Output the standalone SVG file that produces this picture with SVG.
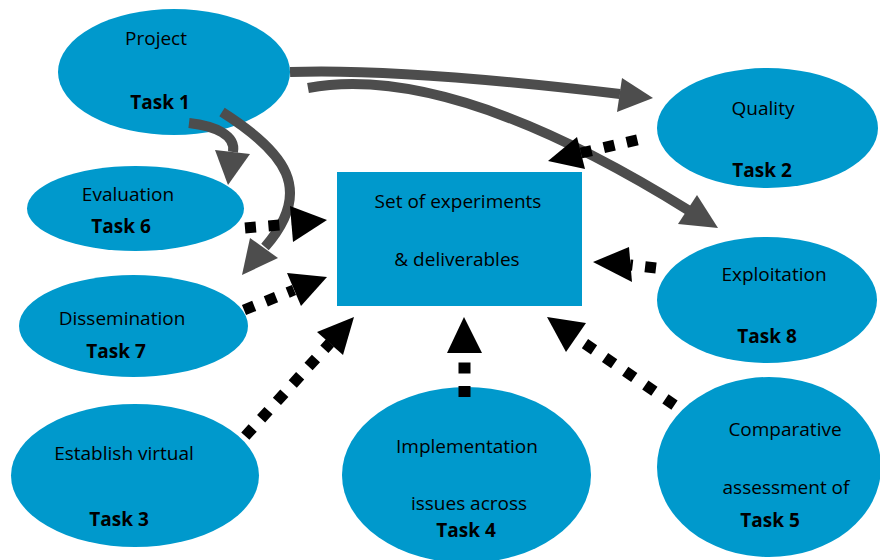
<svg xmlns="http://www.w3.org/2000/svg" width="880" height="560" viewBox="0 0 880 560">
<style>
.n{fill:#0099cc}
.t{font-family:"Open Sans","Liberation Sans",sans-serif;font-size:19px;fill:#000;text-anchor:middle}
.b{font-weight:bold}
.g{fill:none;stroke:#4d4d4d;stroke-width:10}
.gh{fill:#4d4d4d}
.d{fill:none;stroke:#000;stroke-width:11;stroke-dasharray:11 12.5}
.bh{fill:#000}
</style>
<rect width="880" height="560" fill="#fff"/>
<g id="task1"><ellipse class="n" cx="174" cy="72" rx="116" ry="63"/><text class="t" x="156" y="45">Project</text><text class="t b" x="160" y="109">Task 1</text></g>
<g id="task6"><ellipse class="n" cx="135.5" cy="208.5" rx="108.5" ry="42.5"/><text class="t" x="128" y="201">Evaluation</text><text class="t b" x="121" y="233">Task 6</text></g>
<g id="task7"><ellipse class="n" cx="133.5" cy="326" rx="114.5" ry="51"/><text class="t" x="122" y="325">Dissemination</text><text class="t b" x="116" y="358">Task 7</text></g>
<g id="task3"><ellipse class="n" cx="135" cy="475.5" rx="124" ry="71.5"/><text class="t" x="124" y="460">Establish virtual</text><text class="t b" x="119" y="526">Task 3</text></g>
<g id="task4"><ellipse class="n" cx="466.5" cy="475" rx="124.5" ry="88"/><text class="t" x="467" y="453">Implementation</text><text class="t" x="469" y="510">issues across</text><text class="t b" x="466" y="537">Task 4</text></g>
<g id="task5"><ellipse class="n" cx="769" cy="467" rx="112" ry="90"/><text class="t" x="785" y="436">Comparative</text><text class="t" x="786" y="494">assessment of</text><text class="t b" x="770" y="527">Task 5</text></g>
<g id="task2"><ellipse class="n" cx="767.5" cy="128" rx="110.5" ry="60"/><text class="t" x="763" y="115">Quality</text><text class="t b" x="762" y="177">Task 2</text></g>
<g id="task8"><ellipse class="n" cx="767" cy="300" rx="110" ry="63"/><text class="t" x="774" y="281">Exploitation</text><text class="t b" x="767" y="343">Task 8</text></g>
<g id="center"><rect class="n" x="337" y="172" width="245" height="134"/><text class="t" x="458" y="208">Set of experiments</text><text class="t" x="457" y="266">&amp; deliverables</text></g>
<g id="connectors">
<path class="g" d="M290,72 Q400,68 620,94"/><polygon class="gh" points="622,78 653,98 617,112"/>
<path class="g" d="M308,88 Q450,62 688,210"/><polygon class="gh" points="678,224 718,228 697,195"/>
<path class="g" d="M189,123 C215,126 236,135 233,152"/><polygon class="gh" points="215,150 228,185 250,154"/>
<path class="g" d="M222,112 C285,152 315,190 265,247"/><polygon class="gh" points="250,238 242,275 278,258"/>
<path class="d" d="M245,228 L292,224"/><polygon class="bh" points="290,206 327,220 293,242"/>
<path class="d" d="M244,310 L294,290"/><polygon class="bh" points="287,273 327,277 301,306"/>
<path class="d" d="M245.3,436.1 L330,343"/><polygon class="bh" points="317,332 354,317 343,355"/>
<path class="d" style="stroke-width:12" d="M464.5,397 L464.5,353"/><polygon class="bh" points="447,353 464,317 482,353"/>
<path class="d" style="stroke-dasharray:11 13.4" d="M674.5,405.1 L576,337.5"/><polygon class="bh" points="547,317 586,323 566,352"/>
<path class="d" d="M656,268 L630,265"/><polygon class="bh" points="629,247 593,262 632,282"/>
<path class="d" d="M637.4,139.9 L581,153"/><polygon class="bh" points="577,137 548,161 585,169"/>
</g>
</svg>
